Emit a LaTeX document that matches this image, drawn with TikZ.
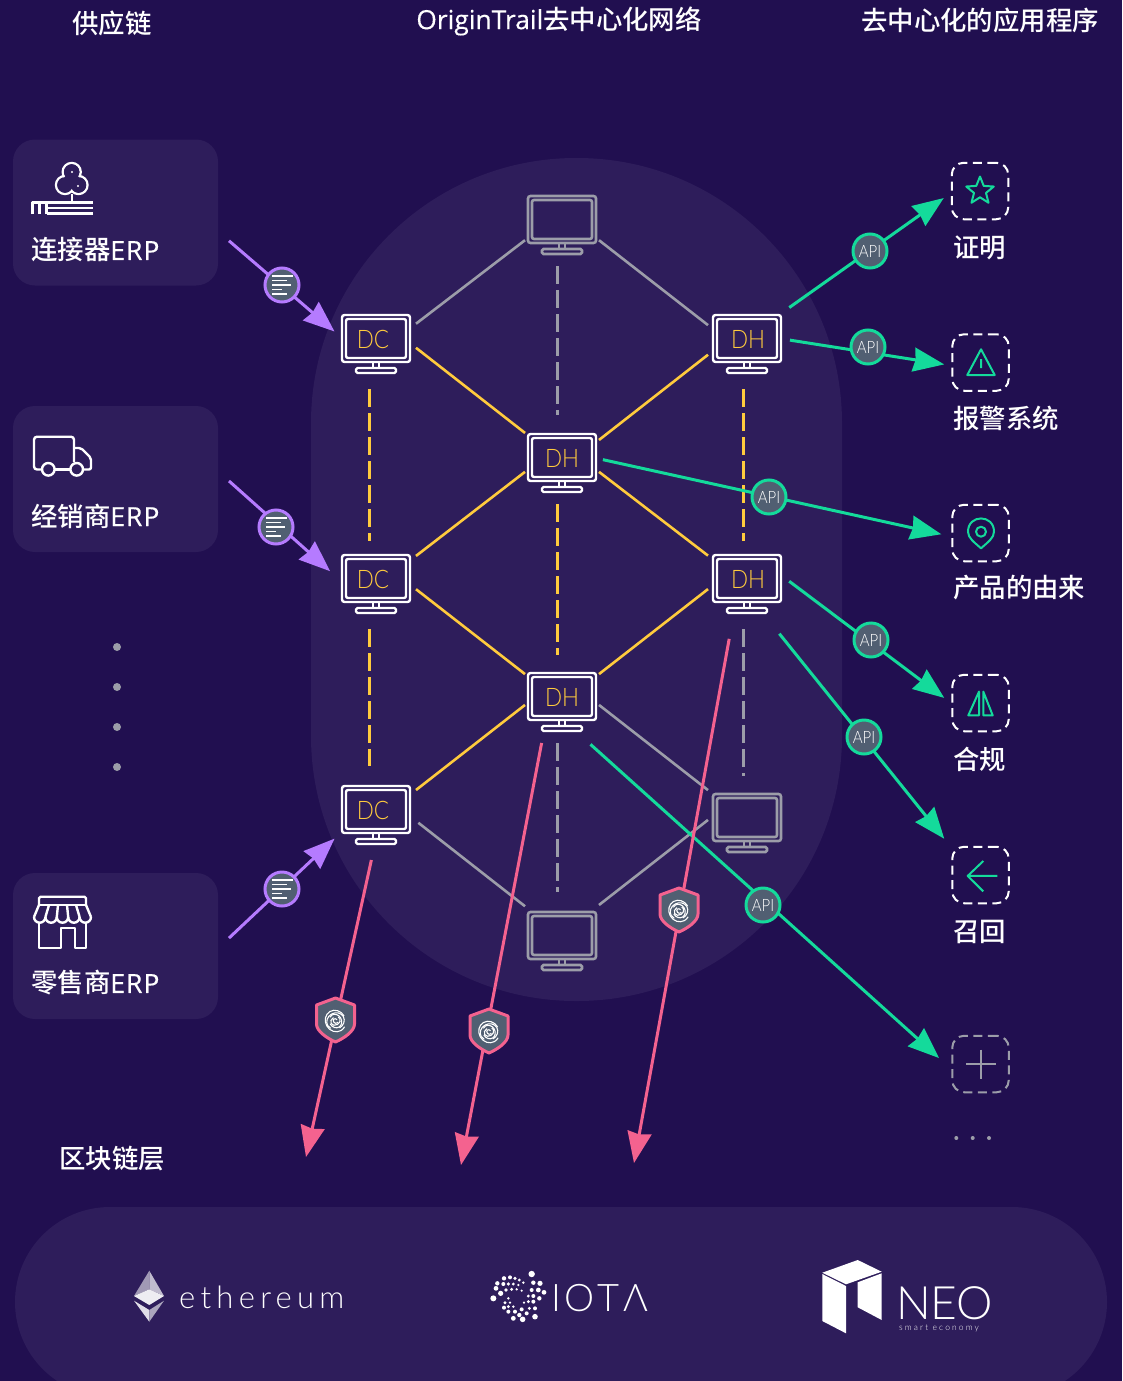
\documentclass[tikz,border=0pt]{standalone}
\usepackage{fontspec}
\usepackage{xcolor}
\usetikzlibrary{arrows.meta,shapes.geometric}
\setmainfont{Noto Sans CJK SC Medium}
\newfontfamily\latinfont[FakeBold=0.3]{Open Sans}
\newfontfamily\thinfont{Lato Light}
\newfontfamily\labelfont[FakeStretch=0.88]{Lato Light}
\definecolor{nightbg}{HTML}{210F50}
\definecolor{panelbg}{HTML}{2E1D5B}
\definecolor{apigreen}{HTML}{14DA9B}
\definecolor{erppurple}{HTML}{B57BFF}
\definecolor{chainpink}{HTML}{F4628F}
\definecolor{linkgold}{HTML}{FFCB3D}
\definecolor{idlegray}{HTML}{9C9DA9}
\definecolor{badgegray}{HTML}{515F72}
\def\latin#1{{\latinfont #1}}
\def\erp{{\latinfont\addfontfeature{LetterSpace=4}ERP}}
\tikzset{
  mon/.style 2 args={minimum width=#1,minimum height=#2,inner sep=0,outer sep=0},
  tag/.style={inner sep=0,text=linkgold,font=\labelfont\fontsize{25.5}{25.5}\selectfont},
  title/.style={inner sep=0,text=white,font=\fontsize{26.4}{26.4}\selectfont},
  panel/.style={fill=panelbg,rounded corners=22pt,minimum width=205,minimum height=146,inner sep=0,outer sep=11pt},
  appbox/.style={draw=#1,line width=2pt,dash pattern=on 9pt off 5.5pt,rounded corners=12pt,minimum size=56.5,inner sep=0,outer sep=8pt},
  appbox/.default=white,
  link/.style={line width=2.6pt},
  dashlink/.style={line width=3pt,dash pattern=on 18pt off 6pt},
  tipped/.style={line width=3pt,-{Stealth[length=31pt,width=24pt,inset=2pt]}},
  api/.style={circle,draw=apigreen,line width=3pt,fill=badgegray,minimum size=34,inner sep=0,text=white,font=\labelfont\fontsize{17}{17}\selectfont},
  docbadge/.style={circle,draw=erppurple,line width=3pt,fill=badgegray,minimum size=34,inner sep=0},
  icon/.style={line width=2pt,draw=apigreen,line join=round},
  glyph/.style={line width=2.4pt,draw=white,line join=round},
  logo/.style={inner sep=0,text=white,anchor=base west},
  screen/.pic={
    \draw[pic actions,rounded corners=2.5pt] (-34,-30) rectangle (34,17);
    \draw[pic actions,rounded corners=2pt] (-30,-26) rectangle (30,13);
    \draw[pic actions] (-3,17) -- (-3,23) (3,17) -- (3,23);
    \draw[pic actions,rounded corners=1.5pt] (-20,23) rectangle (20,28);
  },
  doclines/.pic={
    \foreach \y/\l in {-9/21,-4.5/15,0/19,4.5/10,9/15}
      \draw[white,line width=1.3pt] (-10,\y) -- (-10+\l,\y);
  },
  shieldmark/.pic={
    \draw[draw=chainpink,line width=3pt,fill=badgegray,line join=round] (0,-22) -- (19,-15) -- (19,4)
      .. controls (19,11) and (9,18) .. (0,22) .. controls (-9,18) and (-19,11) .. (-19,4) -- (-19,-15) -- cycle;
    \foreach \r/\s/\a in {2/2.5/40,4/5/120,6/7/210,8/9/300,10/11/30}
      \draw[white,line width=1.1pt,shift={(0,1)},rotate=\a] (\r pt,0pt) arc[start angle=0,delta angle=300,x radius=\r pt,y radius=\s pt];
  },
}
\begin{document}
\begin{tikzpicture}[x=1pt,y=-1pt]
  \useasboundingbox (0,0) rectangle (1122,1381);
  \fill[nightbg] (0,0) rectangle (1122,1381);
  \fill[panelbg,rounded corners=265pt] (311,158) rectangle (842,1001);
  \fill[panelbg,rounded corners=95pt] (15,1207) rectangle (1107,1397);

  % column titles
  \node[title] (supply) at (112,23) {供应链};
  \node[title] (network) at (559,21) {\latin{OriginTrail}去中心化网络};
  \node[title] (dapps) at (980,20) {去中心化的应用程序};
  \node[title] (chain) at (112,1159) {区块链层};

  % ERP panels
  \node[panel] (p1) at (115.5,212.5) {};
  \node[panel] (p2) at (115.5,479) {};
  \node[panel] (p3) at (115.5,946) {};
  \node[title,anchor=west] (p1t) at (31,250) {连接器\erp};
  \node[title,anchor=west] (p2t) at (31,516) {经销商\erp};
  \node[title,anchor=west] (p3t) at (31,983) {零售商\erp};

  % tree
  \foreach \x/\y in {71.7/172,65/185,78.5/185}
    \draw[glyph] (\x,\y) circle[radius=9pt];
  \foreach \x/\y in {71.7/172,65/185,78.5/185,71.7/180.5}
    \fill[panelbg] (\x,\y) circle[radius=7.8pt];
  \fill[white] (72,172) circle[radius=1.2pt] (78,186) circle[radius=1.2pt];
  \draw[glyph] (71.7,194) -- (71.7,202);
  \draw[glyph] (32.5,214) -- (32.5,202.5) -- (92.5,202.5);
  \draw[glyph] (39.5,214) -- (39.5,202.5) (46.5,214) -- (46.5,202.5);
  \draw[glyph] (46.5,208) -- (92.5,208) (46.5,213.5) -- (92.5,213.5);

  % truck
  \draw[glyph,rounded corners=3pt] (42,469.5) -- (34,469.5) -- (34,436.7) -- (74,436.7) -- (74,462);
  \draw[glyph] (54.7,469.5) -- (70.4,469.5);
  \draw[glyph,rounded corners=2pt] (74,448) -- (81,448) -- (91,458) -- (91,469.5) -- (83,469.5);
  \draw[glyph] (48.3,469.3) circle[radius=6.3pt] (76.7,469.3) circle[radius=6.3pt];

  % store
  \draw[glyph,rounded corners=1.5pt] (39,905) -- (39,896.7) -- (86,896.7) -- (86,905);
  \draw[glyph] (39,905) -- (86,905);
  \draw[glyph,rounded corners=2pt] (39,905) -- (34,917) (86,905) -- (91,917);
  \foreach \i in {0,...,4}
    \draw[glyph] ({34+11.4*\i},917) arc[start angle=180,end angle=360,radius=5.7pt];
  \foreach \x/\u in {45.4/49,56.8/58,68.2/67,79.6/76}
    \draw[glyph] (\x,917) -- (\u,905);
  \draw[glyph] (39,922) -- (39,948) -- (61,948) -- (61,928) -- (75,928) -- (75,948) -- (86,948) -- (86,922);

  % more suppliers
  \foreach \y in {647,687,727,767}
    \fill[idlegray] (117,\y) circle[radius=4pt];

  % monitor nodes
  \foreach \n/\w/\h/\x/\y in {dc1/80/88/376/345,dc2/80/88/376/585,dc3/80/88/376/816,
    r1/78/88/747/345,r2/78/88/747/585,r3/78/88/747/824,
    top/74/80/562/226,m1/74/80/562/464,m2/74/80/562/703,bot/74/80/562/942}
    \node[mon={\w}{\h}] (\n) at (\x,\y) {};

  % application boxes
  \node[appbox] (b1) at (980,191) {};
  \node[appbox] (b2) at (980.5,362.5) {};
  \node[appbox] (b3) at (980.5,533) {};
  \node[appbox] (b4) at (980.5,703) {};
  \node[appbox] (b5) at (980.5,875) {};
  \node[appbox=idlegray] (b6) at (980.5,1064) {};
  \node[title,anchor=west] (b1t) at (953,248) {证明};
  \node[title,anchor=west] (b2t) at (953,418) {报警系统};
  \node[title,anchor=west] (b3t) at (953,588) {产品的由来};
  \node[title,anchor=west] (b4t) at (953,759) {合规};
  \node[title,anchor=west] (b5t) at (953,932) {召回};
  \foreach \x in {956.3,972.7,989}
    \fill[idlegray] (\x,1138) circle[radius=2pt];

  % application icons
  \node[star,star points=5,star point ratio=2.3,icon,minimum size=29,inner sep=0] (star1) at (980,191) {};
  \draw[icon] (981,349.3) -- (967.3,375) -- (994.7,375) -- cycle (981,359) -- (981,368);
  \draw[icon] (981,548.3) .. controls (974,542) and (968,538) .. (968,531.7)
    .. controls (968,514) and (994,514) .. (994,531.7) .. controls (994,538) and (988,542) .. (981,548.3) -- cycle;
  \draw[icon] (981,531.7) circle[radius=5pt];
  \draw[icon] (979,691.6) -- (968.3,715.4) -- (979,715.4) -- cycle (983.3,691.6) -- (992.7,715.4) -- (983.3,715.4) -- cycle;
  \draw[icon] (997.3,875.9) -- (967.7,875.9) (983.3,861) -- (967.7,875.9) -- (983.3,891.4);
  \draw[line width=2pt,idlegray] (966,1064.2) -- (996,1064.2) (981,1049.7) -- (981,1079);

  % idle links
  \foreach \a/\b in {dc1.28/top.201,top.339/r1.153,bot.45/r3.174,m2.357/r3.139}
    \draw[link,idlegray] (\a) -- (\b);
  \draw[link,idlegray,shorten <=3pt] (dc3.353) -- (bot.136);
  \foreach \a/\b/\s in {top.263/m1.97/9,r2.266/r3.94/4,m2.263/bot.97/10}
    \draw[dashlink,idlegray,shorten >=\s pt] (\a) -- (\b);

  % active links
  \foreach \a/\b in {dc1.356/m1.140,m1.33/r1.194,m1.192/dc2.36,m1.348/r2.143,dc2.354/m2.142,r2.186/m2.38,m2.183/dc3.33}
    \draw[link,linkgold] (\a) -- (\b);
  \foreach \a/\b/\s in {dc1.262/dc2.98/0,dc2.262/dc3.98/6,r1.266/r2.94/0,m1.263/m2.97/8}
    \draw[dashlink,linkgold,shorten >=\s pt] (\a) -- (\b);

  % ERP data in
  \draw[tipped,erppurple,shorten >=2pt] (p1.346) -- (dc1.163);
  \draw[tipped,erppurple,shorten >=8pt] (p2.359) -- (dc2.168);
  \draw[tipped,erppurple,shorten >=2pt] (p3.4) -- (dc3.208);

  % API out
  \draw[tipped,apigreen,shorten <=4pt] (r1.42) -- (b1.191);
  \draw[tipped,apigreen,shorten <=4pt] (r1.8) -- (b2.183);
  \draw[tipped,apigreen,shorten <=4pt,shorten >=3pt] (m1.8) -- (b3.183);
  \draw[tipped,apigreen,shorten <=4pt] (r2.9) -- (b4.172);
  \draw[tipped,apigreen,shorten <=6pt] (r2.303) -- (b5.135);
  \draw[tipped,apigreen,shorten <=2pt,shorten >=7pt] (m2.304) -- (b6.178);

  % blockchain out
  \coordinate (pk1) at (306,1157);
  \coordinate (pk2) at (461,1165);
  \coordinate (pk3) at (634,1163);
  \draw[tipped,chainpink] (dc3.264) -- (pk1);
  \draw[tipped,chainpink] (m2.243) -- (pk2);
  \draw[tipped,chainpink,shorten <=10pt] (r2.250) -- (pk3);

  % monitors on top
  \foreach \n/\t/\d in {dc1/DC/-3,dc2/DC/-3,dc3/DC/-3,r1/DH/1,r2/DH/1,m1/DH/0,m2/DH/0}{
    \pic[draw=white,line width=2.4pt] at (\n) {screen};
    \node[tag] (\n t) at ([xshift=\d pt,yshift=6pt]\n.center) {\t};
  }
  \foreach \n in {top,r3,bot}
    \pic[draw=idlegray,line width=2.6pt] at (\n) {screen};

  % badges
  \foreach \n/\x/\y in {api1/870/251,api2/868/347,api3/769/497,api4/871/640,api5/864/737,api6/763/905}
    \node[api] (\n) at (\x,\y) {API};
  \foreach \n/\x/\y in {doc1/282/285,doc2/276/527,doc3/282/889}{
    \node[docbadge] (\n) at (\x,\y) {};
    \pic at (\n) {doclines};
  }
  \pic at (335.5,1020) {shieldmark};
  \pic at (489,1031) {shieldmark};
  \pic at (679,910) {shieldmark};

  % ethereum
  \fill[white!55!panelbg] (149.3,1270.7) -- (134,1296) -- (149.3,1289.3) -- cycle;
  \fill[white!70!panelbg] (149.3,1270.7) -- (164,1296) -- (149.3,1289.3) -- cycle;
  \fill[white!92!panelbg] (149.3,1289.3) -- (134,1296) -- (149.3,1305) -- (164,1296) -- cycle;
  \fill[white!85!panelbg] (134,1300.7) -- (149.3,1310) -- (149.3,1321.7) -- cycle;
  \fill[white!60!panelbg] (164,1300.7) -- (149.3,1310) -- (149.3,1321.7) -- cycle;
  \node[logo,font=\thinfont\fontsize{31}{31}\selectfont] (eth) at (179,1308.5) {\addfontfeature{LetterSpace=17}ethereum};

  % iota
  \foreach \a/\b/\r in {155/42/3.2,40/115/3,165/170/2.8,128/178/2.8,100/175/2.4,62/100/2.6,48/85/2.4,52/70/2.2,
    72/55/2.2,90/52/2,105/55/1.8,118/60/1.6,130/68/1.4,180/70/2.6,160/68/2.2,192/97/2.4,175/90/2.4,155/90/2,
    178/115/2.2,160/108/2,145/108/1.6,132/128/1.2,145/125/1.6,160/125/2,165/145/2,148/145/1.6,70/72/2,85/72/1.8,
    100/72/1.6,115/75/1.3,78/90/1.8,95/88/1.6,110/88/1.3,125/92/1.2,85/115/1.4,75/128/1.6,90/128/1.3,85/140/1.6,
    100/140/1.4,72/143/2,85/155/2,105/155/2,125/148/2,140/160/2,118/165/2.2}
    \fill[white] ({480+\a/3},{1260+\b/3}) circle[radius=\r pt];
  \node[logo,font=\thinfont\fontsize{38}{38}\selectfont] (iota) at (551,1311) {\addfontfeature{LetterSpace=10}IOTΛ};

  % neo
  \fill[white] (822.3,1272.7) -- (857.7,1260) -- (881.7,1271.7) -- (846,1284.3) -- cycle;
  \fill[white] (822.3,1274) -- (846,1286) -- (846,1333.3) -- (822.3,1321) -- cycle;
  \fill[white] (857.7,1282.3) -- (881.7,1273.3) -- (881.7,1320) -- (857.7,1307.3) -- cycle;
  \node[logo,font=\thinfont\fontsize{46}{46}\selectfont] (neo) at (896,1319) {NEO};
  \node[logo,font=\thinfont\fontsize{8.5}{8.5}\selectfont] (neosub) at (899,1330) {\addfontfeature{LetterSpace=25}smart economy};
\end{tikzpicture}
\end{document}
